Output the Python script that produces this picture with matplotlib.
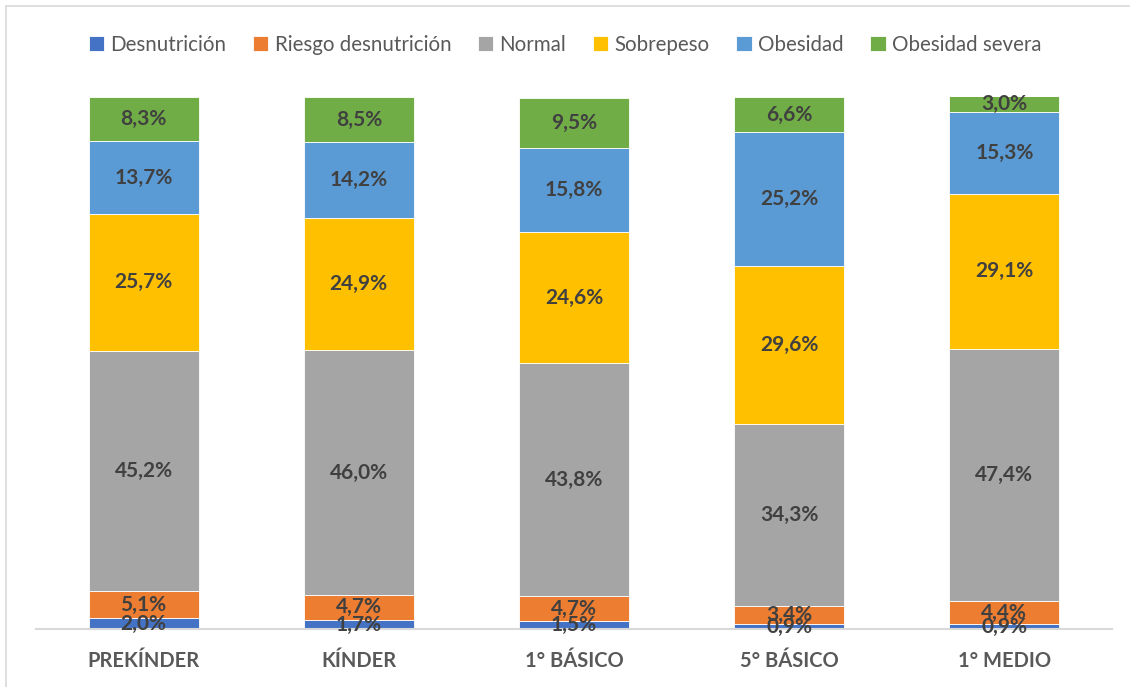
import matplotlib
matplotlib.use("Agg")
import matplotlib.pyplot as plt
from matplotlib.patches import Rectangle
import numpy as np

categories = ["PREKÍNDER", "KÍNDER", "1° BÁSICO", "5° BÁSICO", "1° MEDIO"]
series_names = ["Desnutrición", "Riesgo desnutrición", "Normal", "Sobrepeso", "Obesidad", "Obesidad severa"]
desnutricion = [2.0, 1.7, 1.5, 0.9, 0.9]
riesgo = [5.1, 4.7, 4.7, 3.4, 4.4]
normal = [45.2, 46.0, 43.8, 34.3, 47.4]
sobrepeso = [25.7, 24.9, 24.6, 29.6, 29.1]
obesidad = [13.7, 14.2, 15.8, 25.2, 15.3]
obesidad_severa = [8.3, 8.5, 9.5, 6.6, 3.0]
colors = ["#4472C4", "#ED7D31", "#A5A5A5", "#FFC000", "#5B9BD5", "#70AD47"]

series = [desnutricion, riesgo, normal, sobrepeso, obesidad, obesidad_severa]

W, H = 1130, 687
fig = plt.figure(figsize=(W / 100, H / 100), dpi=100)
ax = fig.add_axes([36 / W, (H - 629) / H, (1112 - 36) / W, (629 - 97) / H])

font = "Lato"
x = np.arange(len(categories))
bottom = np.zeros(len(categories))
handles = []
for name, vals, col in zip(series_names, series, colors):
    vals = np.array(vals)
    b = ax.bar(x, vals, 0.512, bottom=bottom, color=col, edgecolor="white", linewidth=0.6, label=name)
    handles.append(b)
    for xi, v, bt in zip(x, vals, bottom):
        ax.text(xi, bt + v / 2, f"{v:.1f}%".replace(".", ","), ha="center", va="center",
                fontsize=15, fontweight="bold", color="#404040", family=font)
    bottom += vals

ax.set_xlim(-0.5, len(categories) - 0.5)
ax.set_ylim(0, 100)
ax.set_yticks([])
ax.set_xticks(x)
ax.set_xticklabels(categories, fontsize=14.5, fontweight="bold", color="#595959", family=font)
ax.tick_params(axis="x", length=0, pad=16)
for s in ["top", "right", "left"]:
    ax.spines[s].set_visible(False)
ax.spines["bottom"].set_color("#D9D9D9")
ax.spines["bottom"].set_linewidth(1.5)
ax.set_zorder(2)
ax.patch.set_alpha(0)

leg = fig.legend(handles=handles, labels=series_names, loc="center", bbox_to_anchor=(0.5, (H - 45) / H),
                 ncol=6, frameon=False, handlelength=0.75, handleheight=0.75, handletextpad=0.3,
                 columnspacing=1.3, prop={"family": font, "size": 14.8})
for t in leg.get_texts():
    t.set_color("#595959")

# chart frame
fig.patches.append(Rectangle((6 / W, -0.1), 1.2, (H - 6) / H + 0.1, transform=fig.transFigure,
                             fill=False, edgecolor="#D9D9D9", linewidth=1.2))

fig.savefig("out.png", dpi=100, facecolor="white")
